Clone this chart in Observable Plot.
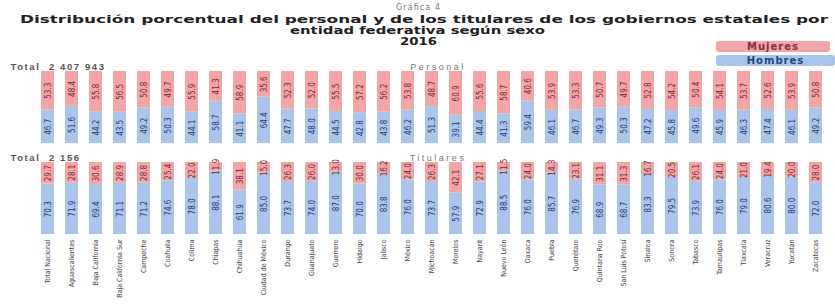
<!DOCTYPE html>
<html><head><meta charset="utf-8">
<script src="https://cdn.jsdelivr.net/npm/d3@7"></script>
<script src="https://cdn.jsdelivr.net/npm/@observablehq/plot@0.6"></script>
<style>
html,body{margin:0;padding:0;background:#fff}
body{width:835px;height:306px;overflow:hidden;position:relative;font-family:"Liberation Sans",Arial,sans-serif}
#head{position:absolute;left:0;top:0;z-index:2}
#chart{position:absolute;left:0;top:46px;z-index:1}
.leg{position:absolute;z-index:3;left:716px;height:11px;line-height:11px;border-radius:3px;text-align:center;font:bold 10px "DejaVu Sans",Arial,sans-serif;letter-spacing:1px}
</style></head><body>
<svg id="head" width="835" height="49" font-family="DejaVu Sans, Arial, sans-serif">
  <text x="418" y="10" text-anchor="middle" font-size="8" fill="#777" textLength="44" lengthAdjust="spacing">Gráfica 4</text>
  <text x="20" y="22.5" font-size="10" font-weight="bold" fill="#222" textLength="808" lengthAdjust="spacingAndGlyphs">Distribución porcentual del personal y de los titulares de los gobiernos estatales por</text>
  <text x="290" y="33.5" font-size="10" font-weight="bold" fill="#222" textLength="255" lengthAdjust="spacingAndGlyphs">entidad federativa según sexo</text>
  <text x="400" y="44.5" font-size="10" font-weight="bold" fill="#222" textLength="37" lengthAdjust="spacingAndGlyphs">2016</text>
</svg>
<div id="chart"></div>
<div class="leg" style="top:41px;width:114px;background:#f2a5a5;color:#8b2f3a">Mujeres</div>
<div class="leg" style="top:55px;width:119px;background:#a9c5ec;color:#27487e">Hombres</div>
<script>
const states = ["Total Nacional","Aguascalientes","Baja California","Baja California Sur","Campeche","Coahuila","Colima","Chiapas","Chihuahua","Ciudad de México","Durango","Guanajuato","Guerrero","Hidalgo","Jalisco","México","Michoacán","Morelos","Nayarit","Nuevo León","Oaxaca","Puebla","Querétaro","Quintana Roo","San Luis Potosí","Sinaloa","Sonora","Tabasco","Tamaulipas","Tlaxcala","Veracruz","Yucatán","Zacatecas"];
const mujeresPersonal = [53.3,48.4,55.8,56.5,50.8,49.7,55.9,41.3,58.9,35.6,52.3,52.0,55.5,57.2,56.2,53.8,48.7,60.9,55.6,58.7,40.6,53.9,53.3,50.7,49.7,52.8,54.2,50.4,54.1,53.7,52.6,53.9,50.8];
const hombresPersonal = [46.7,51.6,44.2,43.5,49.2,50.3,44.1,58.7,41.1,64.4,47.7,48.0,44.5,42.8,43.8,46.2,51.3,39.1,44.4,41.3,59.4,46.1,46.7,49.3,50.3,47.2,45.8,49.6,45.9,46.3,47.4,46.1,49.2];
const mujeresTitulares = [29.7,28.1,30.6,28.9,28.8,25.4,22.0,11.9,38.1,15.0,26.3,26.0,13.0,30.0,16.2,24.0,26.3,42.1,27.1,11.5,24.0,14.3,23.1,31.1,31.3,16.7,20.5,26.1,24.0,21.0,19.4,20.0,28.0];
const hombresTitulares = [70.3,71.9,69.4,71.1,71.2,74.6,78.0,88.1,61.9,85.0,73.7,74.0,87.0,70.0,83.8,76.0,73.7,57.9,72.9,88.5,76.0,85.7,76.9,68.9,68.7,83.3,79.5,73.9,76.0,79.0,80.6,80.0,72.0];
const panels = ["Personal","Titulares"];
const totals = ["Total  2 407 943","Total  2 156"];
const sexos = ["Mujeres","Hombres"];

const rows = [];
states.forEach((s,i)=>{
  rows.push({panel:"Personal",state:s,sexo:"Hombres",v:hombresPersonal[i]});
  rows.push({panel:"Personal",state:s,sexo:"Mujeres",v:mujeresPersonal[i]});
  rows.push({panel:"Titulares",state:s,sexo:"Hombres",v:hombresTitulares[i]});
  rows.push({panel:"Titulares",state:s,sexo:"Mujeres",v:mujeresTitulares[i]});
});
const panelInfo = panels.map((p,i)=>({panel:p,total:totals[i]}));
const stackOpts = {x:"state",y:"v",fy:"panel",z:"sexo",order:["Hombres","Mujeres"]};

const chart = Plot.plot({
  width:835, height:260,
  marginTop:24, marginBottom:71, marginLeft:0, marginRight:0,
  style:{fontFamily:"DejaVu Sans Condensed, Liberation Sans, Arial, sans-serif", fontSize:"7px", color:"#444", background:"transparent", overflow:"visible"},
  x:{domain:states, range:[14.6,848.2], padding:0.478, label:null, tickSize:0, tickRotate:-90, tickPadding:5},
  y:{domain:[0,100], axis:null},
  fy:{domain:panels, padding:0.2065, axis:null, label:null},
  color:{domain:sexos, range:["#f2a5a5","#a9c5ec"]},
  marks:[
    Plot.barY(rows, Plot.stackY({...stackOpts, fill:"sexo"})),
    Plot.text(rows, Plot.stackY({...stackOpts, text:d=>d.v.toFixed(1), rotate:-90,
      fill:d=>d.sexo==="Mujeres"?"#7a2a35":"#223f72", fontSize:8, fontFamily:"DejaVu Sans Condensed, Arial, sans-serif"})),
    Plot.text(panelInfo, {fy:"panel", text:"total", frameAnchor:"top-left", lineAnchor:"bottom", textAnchor:"start", dx:10, dy:-2, fontWeight:"bold", fontSize:9.5, fill:"#555", fontFamily:"Liberation Sans, Arial, sans-serif"}),
    Plot.text(panelInfo, {fy:"panel", text:"panel", frameAnchor:"top", lineAnchor:"bottom", dx:20, dy:-2, fontSize:9, fill:"#777", fontFamily:"Liberation Sans, Arial, sans-serif"})
  ]
});
document.getElementById("chart").appendChild(chart);
d3.select(chart).selectAll("text").each(function(){
  const t = this.textContent;
  if (totals.includes(t)) this.setAttribute("letter-spacing","1.6");
  if (panels.includes(t)) this.setAttribute("letter-spacing","2.5");
});
</script>
</body></html>
